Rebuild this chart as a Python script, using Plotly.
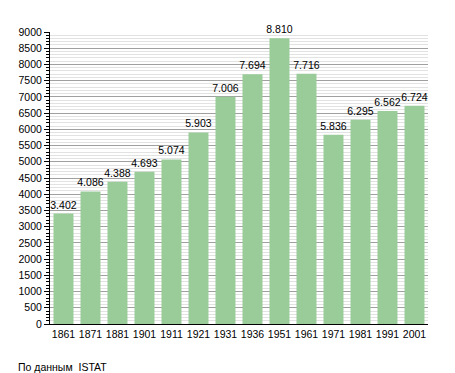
import plotly.graph_objects as go

years = ["1861", "1871", "1881", "1901", "1911", "1921", "1931", "1936", "1951", "1961", "1971", "1981", "1991", "2001"]
population = [3402, 4086, 4388, 4693, 5074, 5903, 7006, 7694, 8810, 7716, 5836, 6295, 6562, 6724]
labels = [f"{v:,}".replace(",", ".") for v in population]
y_ticks = list(range(0, 9001, 500))

fig = go.Figure()
fig.add_trace(go.Bar(
    x=years, y=population, text=labels, textposition="outside",
    constraintext="none",
    marker=dict(color="#99cc99", line=dict(width=0)),
    textfont=dict(size=10.5, color="black"), cliponaxis=False,
))
fig.update_layout(
    width=455, height=373,
    margin=dict(l=50, r=27, t=32, b=49),
    plot_bgcolor="white", paper_bgcolor="white",
    font=dict(family="Liberation Sans, Arial, sans-serif", size=10.5, color="black"),
    bargap=0.26, showlegend=False,
    xaxis=dict(type="category", showline=True, linecolor="black", linewidth=1,
               ticks="", showgrid=False, tickfont=dict(size=10.5)),
    yaxis=dict(range=[0, 9000], tickvals=y_ticks, showline=True, linecolor="black",
               linewidth=1, ticks="outside", ticklen=5, tickcolor="black",
               showgrid=True, gridcolor="#a0a0a0", gridwidth=1,
               minor=dict(dtick=100, showgrid=True, gridcolor="#e2e2e2", ticks="outside",
                          ticklen=3, tickcolor="black"),
               tickfont=dict(size=10.5), zeroline=False),
    annotations=[dict(text="По данным  ISTAT", xref="paper", yref="paper",
                      x=-0.09, y=-0.12, xanchor="left", yanchor="top",
                      showarrow=False, font=dict(size=10.5))],
)
fig.write_html("out.html", config={"displayModeBar": False},
               post_script="document.body.style.margin='0';")
